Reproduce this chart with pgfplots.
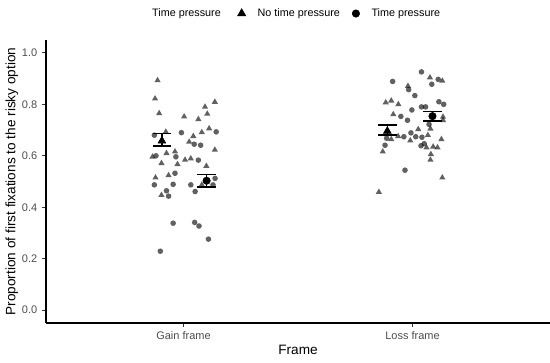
\documentclass[border=0pt]{standalone}
\usepackage{pgfplots}
\pgfplotsset{compat=1.18}
\usepackage{fontspec}
\setmainfont{Liberation Sans}
\definecolor{tickgray}{RGB}{77,77,77}
\definecolor{tickline}{RGB}{51,51,51}
\begin{document}
\begin{tikzpicture}
\useasboundingbox (-34.5pt,-29.25pt) rectangle (378pt,242.25pt);
\begin{axis}[
  at={(0,0)}, anchor=south west,
  scale only axis, width=378pt, height=212.25pt,
  xmin=0.4, xmax=2.6, ymin=-0.05, ymax=1.05,
  axis x line=bottom, axis y line=left,
  axis line style={-, line width=0.8pt, black},
  xtick={1,2}, xticklabels={Gain frame, Loss frame},
  ytick={0,0.2,0.4,0.6,0.8,1.0},
  /pgf/number format/assume math mode=true,
  /pgf/number format/.cd, fixed, fixed zerofill, precision=1, /pgfplots/.cd,
  tick align=outside, major tick length=3pt,
  tick style={tickline, line width=0.6pt},
  ticklabel style={font=\fontsize{8.25}{9}\selectfont, text=tickgray},
  xlabel={Frame}, ylabel={Proportion of first fixations to the risky option},
  label style={font=\fontsize{10.2}{12}\selectfont},
  xlabel style={at={(axis description cs:0.5,-0.0955)}, anchor=center},
  ylabel style={at={(axis description cs:-0.0675,0.5)}, anchor=center},
  clip=false,
  legend style={draw=none, fill=none, inner sep=0pt, outer sep=0pt,
    at={(axis description cs:0.380,1.0936)}, anchor=west,
    nodes={inner sep=0pt},
    font=\fontsize{8.1}{9}\selectfont, legend columns=-1,
    /tikz/every odd column/.append style={column sep=8.9pt},
    /tikz/every even column/.append style={column sep=9.2pt}},
]
\addlegendimage{only marks, mark=triangle*, black, mark size=3.6pt}
\addlegendentry{No time pressure}
\addlegendimage{only marks, mark=*, black, mark size=2.8pt}
\addlegendentry{Time pressure}

% Gain frame, no time pressure (triangles)
\addplot[only marks, mark=triangle*, mark size=2.7pt, forget plot,
  mark options={fill=black, fill opacity=0.62, draw opacity=0}] table {
0.887 0.893
0.876 0.822
0.894 0.765
1.003 0.752
1.137 0.809
1.094 0.790
1.104 0.763
1.065 0.742
0.923 0.693
1.080 0.691
1.112 0.706
1.043 0.676
1.025 0.654
1.137 0.623
0.926 0.610
0.963 0.616
0.865 0.596
1.007 0.584
1.032 0.589
0.904 0.571
0.974 0.567
1.100 0.560
0.878 0.515
0.935 0.524
1.080 0.487
0.904 0.447
};
% Gain frame, time pressure (circles)
\addplot[only marks, mark=*, mark size=2.1pt, forget plot,
  mark options={fill=black, fill opacity=0.62, draw opacity=0}] table {
0.991 0.690
1.143 0.693
0.873 0.680
1.047 0.645
1.075 0.641
0.880 0.600
0.967 0.596
1.065 0.583
0.963 0.532
0.955 0.489
0.873 0.487
1.032 0.487
1.138 0.512
1.129 0.487
0.926 0.464
1.051 0.461
0.935 0.443
0.955 0.338
1.049 0.341
1.068 0.327
1.109 0.276
0.899 0.229
};
% Loss frame, no time pressure (triangles)
\addplot[only marks, mark=triangle*, mark size=2.7pt, forget plot,
  mark options={fill=black, fill opacity=0.62, draw opacity=0}] table {
2.076 0.904
2.130 0.891
1.980 0.871
1.883 0.807
1.907 0.814
1.938 0.800
1.916 0.761
2.133 0.751
2.133 0.738
2.078 0.705
2.025 0.703
1.907 0.664
1.937 0.676
1.990 0.659
2.067 0.680
2.126 0.664
2.061 0.632
2.090 0.635
2.109 0.632
1.870 0.616
2.080 0.606
2.078 0.584
2.130 0.515
1.853 0.459
};
% Loss frame, time pressure (circles)
\addplot[only marks, mark=*, mark size=2.1pt, forget plot,
  mark options={fill=black, fill opacity=0.62, draw opacity=0}] table {
2.039 0.926
2.112 0.897
2.084 0.878
1.913 0.889
1.983 0.857
2.010 0.834
2.115 0.810
2.136 0.800
2.039 0.790
2.057 0.790
1.997 0.778
1.949 0.753
1.978 0.738
2.072 0.722
1.887 0.668
1.880 0.641
1.962 0.674
1.993 0.689
2.014 0.674
2.041 0.672
2.037 0.639
2.051 0.647
1.967 0.544
};
% Means with error bars
\addplot[only marks, mark=triangle*, mark size=3.4pt, black, forget plot,
  mark options={yshift=-0.8pt},
  error bars/.cd, y dir=both, y explicit,
  error bar style={line width=1.1pt, black},
  error mark options={line width=1.1pt, black, mark size=7pt, rotate=90, yshift=0pt}]
  table[x index=0, y index=1, y error index=2] {
0.906 0.662 0.024
1.890 0.700 0.020
};
\addplot[only marks, mark=*, mark size=2.8pt, black, forget plot,
  error bars/.cd, y dir=both, y explicit,
  error bar style={line width=1.1pt, black},
  error mark options={line width=1.1pt, black, mark size=7pt, rotate=90}]
  table[x index=0, y index=1, y error index=2] {
1.101 0.503 0.025
2.087 0.754 0.019
};
\node[font=\fontsize{8.1}{9}\selectfont, anchor=center] at (axis description cs:0.2788,1.0936) {Time pressure};
\end{axis}
\end{tikzpicture}
\end{document}
